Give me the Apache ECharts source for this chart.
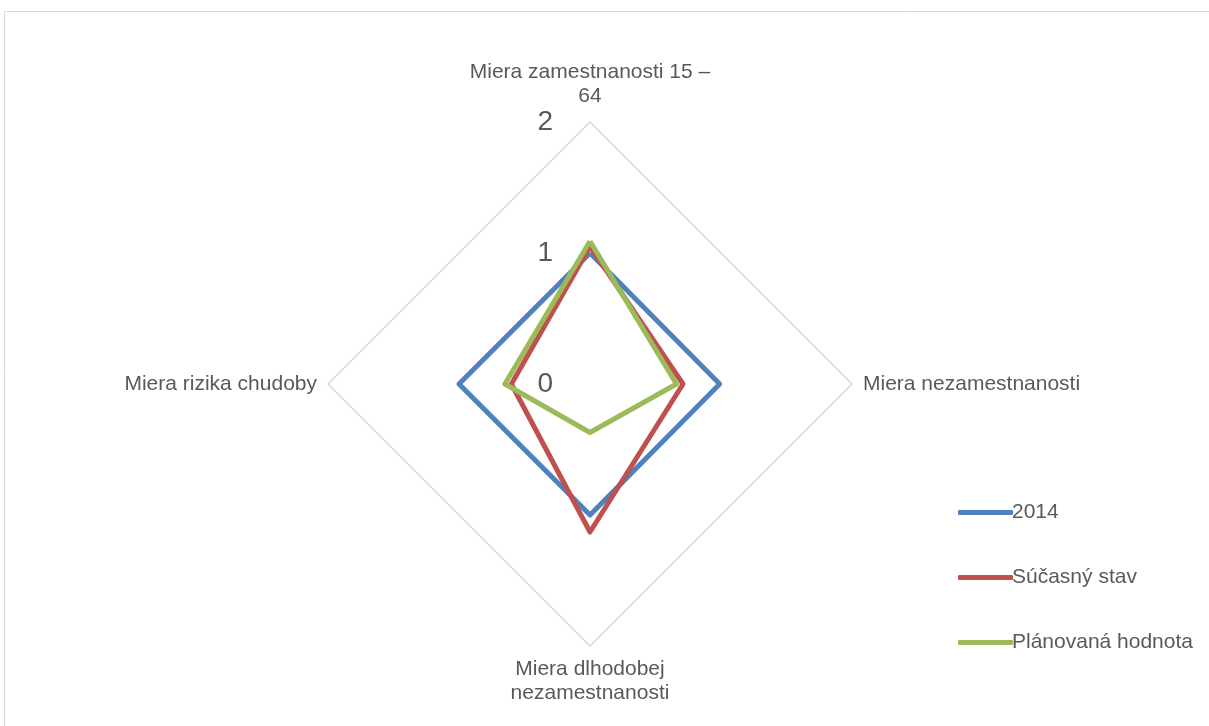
<!DOCTYPE html>
<html><head><meta charset="utf-8">
<script src="https://cdn.jsdelivr.net/npm/echarts@6/dist/echarts.min.js"></script>
<style>html,body{margin:0;padding:0;background:#fff}#c{width:1209px;height:726px}</style>
</head><body><div id="c"></div>
<script>
const indicatorNames = ['Miera zamestnanosti 15 –\n64', 'Miera rizika chudoby', 'Miera dlhodobej\nnezamestnanosti', 'Miera nezamestnanosti'];
const axisMax = 2;
const seriesNames = ['2014', 'Súčasný stav', 'Plánovaná hodnota'];
const values2014 = [1.0, 1.0, 1.0, 0.99];
const valuesCurrent = [1.05, 0.6, 1.13, 0.71];
const valuesPlanned = [1.09, 0.65, 0.37, 0.66];
const colors = ['#4f81bd', '#c0504d', '#9bbb59'];

const chart = echarts.init(document.getElementById('c'));
const font = 'Liberation Sans, Arial, sans-serif';
chart.setOption({
  animation: false,
  graphic: [{type: 'rect', shape: {x: 4.5, y: 11.5, width: 1300, height: 800}, style: {fill: 'none', stroke: '#d9d9d9', lineWidth: 1}}],
  legend: {
    orient: 'vertical', left: 953, top: 497, itemGap: 44,
    itemWidth: 55, itemHeight: 5, icon: 'roundRect',
    textStyle: {fontSize: 21, color: '#595959', fontFamily: font, padding: [0, 0, 0, -6]},
    data: seriesNames
  },
  radar: {
    center: [590, 384], radius: 262, shape: 'polygon', splitNumber: 2,
    startAngle: 90,
    indicator: indicatorNames.map((n, i) => i === 0 ? {name: n, min: 0, max: axisMax,
      axisLabel: {show: true, fontSize: 28, color: '#595959', fontFamily: font, margin: 37, padding: [8, 0, 0, 0]}} : {name: n, min: 0, max: axisMax}),
    axisName: {color: '#595959', fontSize: 21, fontFamily: font, lineHeight: 24},
    nameGap: 11,
    axisLine: {show: false},
    axisTick: {show: false},
    axisLabel: {show: false},
    splitArea: {show: false},
    splitLine: {lineStyle: {color: ['rgba(0,0,0,0)', 'rgba(0,0,0,0)', '#d9d9d9'], width: 1.5}}
  },
  series: [{
    type: 'radar', symbol: 'none',
    data: [
      {name: seriesNames[0], value: values2014, lineStyle: {color: colors[0], width: 5}, itemStyle: {color: colors[0]}},
      {name: seriesNames[1], value: valuesCurrent, lineStyle: {color: colors[1], width: 5}, itemStyle: {color: colors[1]}},
      {name: seriesNames[2], value: valuesPlanned, lineStyle: {color: colors[2], width: 5}, itemStyle: {color: colors[2]}}
    ]
  }]
});
</script></body></html>
